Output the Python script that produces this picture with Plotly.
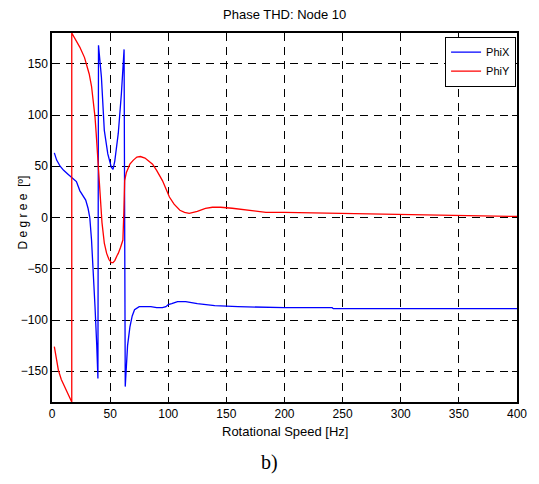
import plotly.graph_objects as go

# PhiX (blue)
phix_hz = [2, 4, 7, 10, 14, 17, 21, 24, 27, 29, 31, 32.5, 34, 35.5, 37, 38.5, 39.5,
           40, 42.5, 45, 48, 51, 52.5, 54, 57, 59.7, 62,
           63, 64, 65, 67, 69, 71, 75, 80, 85, 90, 95, 98, 100, 103, 108, 115, 125,
           140, 160, 200, 241, 242, 300, 400]
phix_deg = [63, 56, 50, 46, 42, 39, 35, 26, 21, 17, 9, 0, -22, -50, -87, -125, -157,
            168, 137, 85, 62, 49, 47, 55, 82, 121, 164,
            -165, -140, -125, -107, -96, -90, -87, -87, -87, -88, -88, -87, -85, -84, -82, -82, -84,
            -86, -87, -88, -88, -89, -89, -89]

# PhiY (red)
phiy_hz = [2, 4, 5.5, 8, 10, 12.5, 14.5, 16, 17,
           17, 19, 21, 24, 28, 30, 32, 34, 35.5, 37, 38, 39.5, 41, 43, 45, 47, 49, 51, 52.5,
           54, 56, 57, 59, 61, 61.8, 62.5, 64, 67, 70, 73, 76, 80, 86.5, 90, 95, 98, 101,
           105, 110, 114, 118, 125, 132, 138, 145, 155, 170, 184, 200, 221, 260, 295, 340,
           381, 400]
phiy_deg = [-126, -140, -149, -158, -163, -168, -173, -178, -180,
            180, 176, 172, 166, 156, 149, 140, 128, 114, 98, 82, 55, 23, -5, -25, -35, -41, -44, -44,
            -42, -37, -35, -29, -22, 5, 36, 44, 52, 56, 59, 59.5, 58, 52, 46, 36, 27, 20,
            13, 7, 5, 4, 6, 9, 10, 10, 9, 7, 5, 5, 4.6, 3.5, 2.6, 2.3,
            1.3, 1]

x_ticks = [0, 50, 100, 150, 200, 250, 300, 350, 400]
y_ticks = [-150, -100, -50, 0, 50, 100, 150]

FONT = "Liberation Sans, Arial, sans-serif"

fig = go.Figure()
fig.add_trace(go.Scatter(x=phix_hz, y=phix_deg, mode="lines", name="PhiX",
                         line=dict(color="#0000ff", width=1.3)))
fig.add_trace(go.Scatter(x=phiy_hz, y=phiy_deg, mode="lines", name="PhiY",
                         line=dict(color="#ff0000", width=1.3)))

axis_common = dict(showline=True, linecolor="black", linewidth=1.5, mirror="ticks",
                   ticks="inside", ticklen=5, tickcolor="black",
                   showgrid=True, gridcolor="black", gridwidth=1, griddash="8px,6px",
                   zeroline=False, tickfont=dict(family=FONT, size=12, color="black"))

fig.update_xaxes(range=[0, 400], tickvals=x_ticks, **axis_common)
fig.update_yaxes(range=[-180, 180], tickvals=y_ticks, **axis_common)

fig.update_layout(
    width=539, height=484,
    margin=dict(l=52, r=20, t=33, b=82),
    plot_bgcolor="white", paper_bgcolor="white",
    font=dict(family=FONT, size=12, color="black"),
    showlegend=True,
    legend=dict(x=0.998, y=0.99, xanchor="right", yanchor="top",
                bgcolor="white", bordercolor="black", borderwidth=1,
                font=dict(family=FONT, size=11, color="black"),
                itemwidth=30, tracegroupgap=0),
    annotations=[
        dict(text="Phase THD: Node 10", xref="paper", yref="paper",
             x=0.5, y=1, yshift=19, xanchor="center", yanchor="middle", showarrow=False,
             font=dict(family=FONT, size=13, color="black")),
        dict(text="Rotational Speed [Hz]", xref="paper", yref="paper",
             x=0.5, y=0, yshift=-29, xanchor="center", yanchor="middle", showarrow=False,
             font=dict(family=FONT, size=13, color="black")),
        dict(text="D e g r e e  [º]", xref="paper", yref="paper",
             x=0, y=0.5, xshift=-30, yshift=5, xanchor="center", yanchor="middle",
             textangle=-90, showarrow=False,
             font=dict(family=FONT, size=12, color="black")),
        dict(text="b)", xref="paper", yref="paper",
             x=(270 - 52) / 467, y=0, yshift=-60, xanchor="center", yanchor="middle",
             showarrow=False,
             font=dict(family="Liberation Serif, Times New Roman, serif", size=20, color="black")),
    ],
)

fig.write_html("out.html")
